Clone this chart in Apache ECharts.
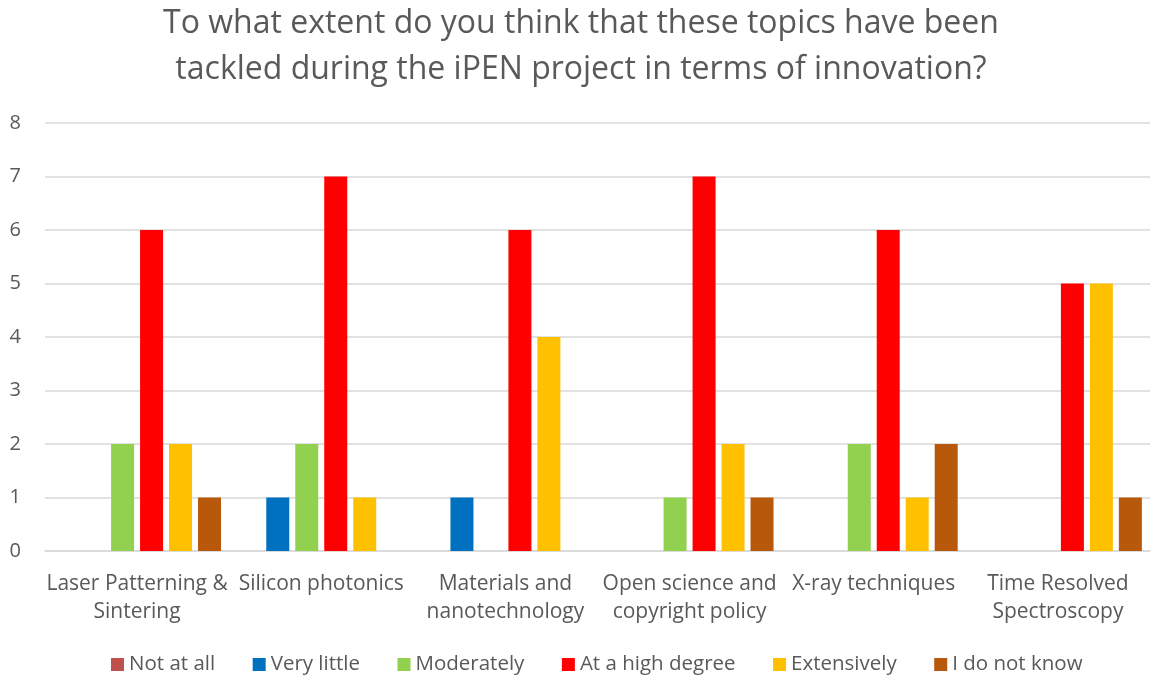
<!DOCTYPE html>
<html>
<head>
<meta charset="utf-8">
<script src="https://cdn.jsdelivr.net/npm/echarts@6/dist/echarts.min.js"></script>
<style>
  html, body { margin: 0; padding: 0; background: #fff; }
  #chart { width: 1162px; height: 677px; }
</style>
</head>
<body>
<div id="chart"></div>
<script>
// Survey topics (x axis)
const categories = [
  'Laser Patterning &\nSintering',
  'Silicon photonics',
  'Materials and\nnanotechnology',
  'Open science and\ncopyright policy',
  'X-ray techniques',
  'Time Resolved\nSpectroscopy'
];

// Number of answers per response level, one value per topic
const notAtAll     = [0, 0, 0, 0, 0, 0];
const veryLittle   = [0, 1, 1, 0, 0, 0];
const moderately   = [2, 2, 0, 1, 2, 0];
const highDegree   = [6, 7, 6, 7, 6, 5];
const extensively  = [2, 1, 4, 2, 1, 5];
const doNotKnow    = [1, 0, 0, 1, 2, 1];

const yTicks = [0, 1, 2, 3, 4, 5, 6, 7, 8];

const seriesDefs = [
  { name: 'Not at all',       data: notAtAll,    color: '#C0504D' },
  { name: 'Very little',      data: veryLittle,  color: '#0070C0' },
  { name: 'Moderately',       data: moderately,  color: '#92D050' },
  { name: 'At a high degree', data: highDegree,  color: '#FF0000' },
  { name: 'Extensively',      data: extensively, color: '#FFC000' },
  { name: 'I do not know',    data: doNotKnow,   color: '#B8580A' }
];

const FONT = '"Open Sans", Lato, sans-serif';
const TEXT = '#595959';

const chart = echarts.init(document.getElementById('chart'), null, { renderer: 'canvas' });

chart.setOption({
  backgroundColor: '#ffffff',
  animation: false,
  title: {
    text: 'To what extent do you think that these topics have been\ntackled during the iPEN project in terms of innovation?',
    left: 'center',
    top: -4,
    textStyle: {
      fontFamily: FONT,
      fontSize: 32,
      fontWeight: 'normal',
      color: TEXT,
      lineHeight: 46
    }
  },
  legend: {
    bottom: -3,
    left: 106,
    itemWidth: 13,
    itemHeight: 13,
    itemGap: 37.5,
    icon: 'rect',
    textStyle: { fontFamily: FONT, fontSize: 20.5, color: TEXT },
    data: seriesDefs.map(s => s.name)
  },
  grid: {
    left: 45,
    right: 12,
    top: 123,
    bottom: 126,
    containLabel: false
  },
  xAxis: {
    type: 'category',
    data: categories,
    axisLine: { show: true, lineStyle: { color: '#D9D9D9', width: 1.5 } },
    axisTick: { show: false },
    axisLabel: {
      fontFamily: FONT,
      fontSize: 21,
      color: TEXT,
      lineHeight: 28,
      margin: 19,
      interval: 0
    }
  },
  yAxis: {
    type: 'value',
    min: yTicks[0],
    max: yTicks[yTicks.length - 1],
    interval: 1,
    axisLine: { show: false },
    axisTick: { show: false },
    splitLine: { lineStyle: { color: '#D9D9D9', width: 1.5 } },
    axisLabel: {
      fontFamily: FONT,
      fontSize: 20,
      color: TEXT,
      margin: 24
    }
  },
  series: seriesDefs.map(s => ({
    name: s.name,
    type: 'bar',
    data: s.data.map(v => (v === 0 ? null : v)),
    barWidth: 23,
    barGap: '26%',
    itemStyle: { color: s.color },
    emphasis: { disabled: true }
  }))
});
</script>
</body>
</html>
